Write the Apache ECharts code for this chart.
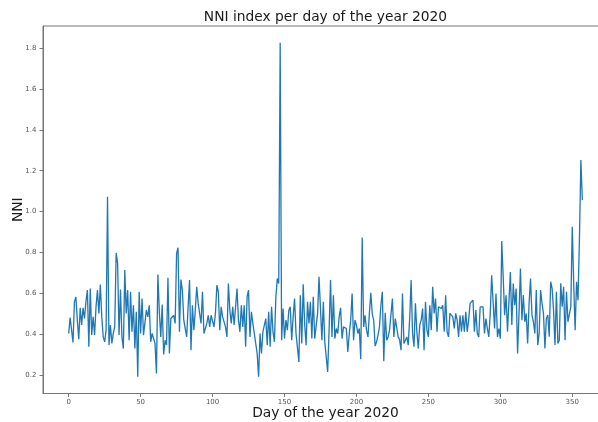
<!DOCTYPE html>
<html><head><meta charset="utf-8">
<script src="https://cdn.jsdelivr.net/npm/echarts@6/dist/echarts.min.js"></script>
<style>html,body{margin:0;padding:0;background:#fff}#c{width:598px;height:422px}</style>
</head><body><div id="c"></div>
<script>
const titleText = 'NNI index per day of the year 2020';
const xName = 'Day of the year 2020';
const yName = 'NNI';
const xTicks = [0, 50, 100, 150, 200, 250, 300, 350];
const yTicks = [0.2, 0.4, 0.6, 0.8, 1.0, 1.2, 1.4, 1.6, 1.8];
const nni = [
0.404,0.482,0.477,0.360,0.559,0.583,0.469,0.376,0.529,0.445,
0.529,0.477,0.559,0.616,0.339,0.624,0.396,0.485,0.396,0.534,
0.616,0.502,0.643,0.485,0.387,0.363,0.420,1.072,0.347,0.445,
0.355,0.404,0.436,0.798,0.746,0.396,0.619,0.387,0.330,0.714,
0.502,0.616,
0.371,0.608,0.412,0.542,0.330,0.510,0.192,0.608,0.404,0.575,
0.396,0.387,0.518,0.485,0.542,0.363,0.404,0.404,0.355,0.208,
0.692,0.510,0.387,0.546,0.301,0.371,0.347,0.676,0.306,0.477,
0.485,0.493,0.453,0.795,0.823,0.412,0.668,0.616,0.469,0.428,
0.387,0.534,0.665,0.322,0.542,
0.420,0.518,0.632,0.551,0.542,0.453,0.608,0.404,0.404,0.453,
0.493,0.436,0.493,0.485,0.436,0.502,0.640,0.608,0.420,0.534,
0.485,0.477,0.436,0.387,0.648,0.518,0.453,0.534,0.445,0.453,
0.624,0.469,0.412,0.542,0.436,0.542,0.339,0.583,0.616,0.387,
0.510,0.453,0.404,0.412,0.306,0.192,0.404,
0.306,0.412,0.404,0.477,0.347,0.510,0.339,0.534,0.412,0.363,
0.583,0.673,0.648,1.826,0.371,0.526,0.379,0.469,0.420,0.518,
0.534,0.371,0.485,0.575,0.404,0.396,0.265,0.591,0.355,0.644,
0.453,0.347,0.559,0.453,0.559,0.379,0.583,0.379,0.371,0.502,
0.681,0.689,0.371,0.559,
0.363,0.355,0.216,0.420,0.665,0.387,0.591,0.379,0.428,0.404,
0.485,0.529,0.379,0.436,0.436,0.428,0.314,0.400,0.469,0.599,
0.371,0.469,0.445,0.404,0.428,0.278,0.873,0.436,0.493,0.420,
0.387,0.502,0.603,0.500,0.469,0.342,0.363,0.396,0.436,0.542,
0.608,0.268,0.505,0.371,0.387,0.420,
0.428,0.575,0.387,0.477,0.485,0.387,0.374,0.322,0.599,0.355,
0.363,0.387,0.347,0.477,0.665,0.404,0.339,0.551,0.412,0.330,
0.445,0.469,0.526,0.322,0.559,0.420,0.387,0.542,0.420,0.632,
0.502,0.575,0.412,0.534,0.534,0.526,0.542,0.412,0.591,0.412,
0.387,0.502,0.493,0.485,0.428,
0.502,0.469,0.387,0.493,0.412,0.493,0.412,0.510,0.412,0.469,
0.551,0.551,0.567,0.412,0.518,0.404,0.387,0.534,0.537,0.534,
0.404,0.477,0.428,0.387,0.502,0.689,0.681,0.428,0.599,0.387,
0.428,0.379,0.856,0.681,0.493,0.591,0.412,0.404,0.705,0.445,
0.648,0.542,0.624,0.306,0.502,
0.722,0.469,0.592,0.461,0.502,0.355,0.551,0.673,0.494,0.461,
0.404,0.616,0.347,0.404,0.616,0.551,0.502,0.331,0.477,0.494,
0.388,0.657,0.624,0.518,0.347,0.608,0.355,0.371,0.649,0.535,
0.632,0.371,0.608,0.461,0.469,0.535,0.926,0.649,0.420,0.657,
0.567,0.869,1.252,1.056
];
const days = nni.map((v, i) => i);

const chart = echarts.init(document.getElementById('c'), null, {renderer: 'canvas'});
const font = 'DejaVu Sans';
const gridLeft = 43, gridTop = 26, gridW = 565, gridH = 367.5;
const nMax = days[days.length - 1];
const yMin = 0.192, yMax = 1.826, yPad = (yMax - yMin) * 0.05;
chart.setOption({
  animation: false,
  backgroundColor: '#fff',
  textStyle: {fontFamily: font},
  graphic: [{
    type: 'text', x: gridLeft + gridW / 2, y: 17,
    style: {text: titleText, textAlign: 'center', textVerticalAlign: 'middle',
            font: '13.8px "DejaVu Sans"', fill: '#1a1a1a'}
  }],
  grid: {left: gridLeft, top: gridTop, width: gridW, height: gridH,
         outerBoundsMode: 'none', containLabel: false,
         show: true, borderColor: '#777', borderWidth: 1, backgroundColor: 'transparent'},
  xAxis: {
    type: 'value', min: -0.05 * nMax, max: 1.05 * nMax,
    name: xName, nameLocation: 'middle', nameGap: 13, nameMoveOverlap: false,
    nameTextStyle: {fontSize: 13.8, color: '#1a1a1a', fontFamily: font, verticalAlign: 'top'},
    axisLine: {show: true, onZero: false, lineStyle: {color: '#777', width: 1}},
    axisTick: {show: true, length: 3.5, lineStyle: {color: '#777'}, customValues: xTicks},
    axisLabel: {fontSize: 7, color: '#555', margin: 5, fontFamily: font, customValues: xTicks},
    splitLine: {show: false}
  },
  yAxis: {
    type: 'value', min: yMin - yPad, max: yMax + yPad,
    name: yName, nameLocation: 'middle', nameGap: 17.5, nameMoveOverlap: false,
    nameTextStyle: {fontSize: 13.8, color: '#1a1a1a', fontFamily: font},
    axisLine: {show: true, onZero: false, lineStyle: {color: '#777', width: 1}},
    axisTick: {show: true, length: 3.5, lineStyle: {color: '#777'}, customValues: yTicks},
    axisLabel: {fontSize: 7, color: '#555', margin: 6.5, fontFamily: font, customValues: yTicks,
                formatter: v => v.toFixed(1)},
    splitLine: {show: false}
  },
  series: [{
    type: 'line', data: days.map((d, i) => [d, nni[i]]),
    showSymbol: false, symbol: 'none',
    lineStyle: {color: '#1f77b4', width: 1.3},
    clip: true
  }]
});
</script></body></html>
